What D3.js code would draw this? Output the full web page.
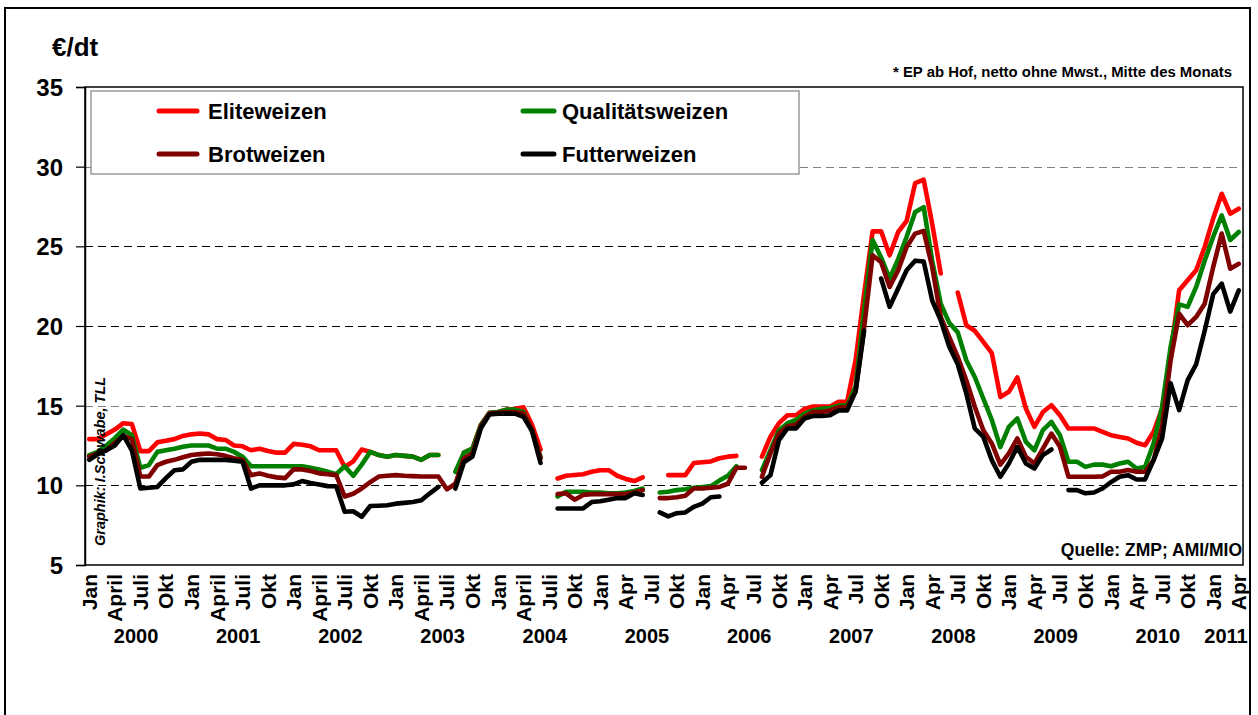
<!DOCTYPE html>
<html><head><meta charset="utf-8">
<script src="https://cdn.jsdelivr.net/npm/d3@7"></script>
<style>
body{margin:0;background:#fff}
svg{display:block}
text{font-family:"Liberation Sans",Arial,sans-serif;font-weight:bold;fill:#000}
</style>
</head><body>
<svg id="c" width="1258" height="715"></svg>
<script>
// ---- data ----
const yearLabels = ["2000","2001","2002","2003","2004","2005","2006","2007","2008","2009","2010","2011"];
const monthTickLabels = [
  "Jan","April","Juli","Okt","Jan","April","Juli","Okt","Jan","April","Juli","Okt",
  "Jan","April","Juli","Okt","Jan","April","Juli","Okt",
  "Jan","Apr","Jul","Okt","Jan","Apr","Jul","Okt","Jan","Apr","Jul","Okt",
  "Jan","Apr","Jul","Okt","Jan","Apr","Jul","Okt","Jan","Apr","Jul","Okt",
  "Jan","Apr"];
const yTicks = [5,10,15,20,25,30,35];
const seriesNames = ["Eliteweizen","Qualitätsweizen","Brotweizen","Futterweizen"];
const seriesColors = ["#ff0000","#008000","#800000","#000000"];

const eliteweizen = [
  12.9,12.9,13.2,13.5,13.9,13.85,12.15,12.15,12.7,12.8,12.9,13.1,
  13.2,13.25,13.2,12.9,12.85,12.5,12.45,12.2,12.3,12.15,12.05,12.05,
  12.6,12.55,12.45,12.2,12.2,12.2,11.15,11.5,12.25,12.1,11.9,11.8,
  11.9,11.85,11.8,11.6,11.9,11.9,null,null,12.05,12.3,13.8,14.55,
  14.6,14.75,14.8,14.9,13.8,12.25,null,10.43,10.6,10.65,10.7,10.85,
  10.95,10.95,10.6,10.4,10.27,10.5,null,null,10.64,10.64,10.64,11.4,
  11.45,11.5,11.7,11.8,11.85,null,null,11.8,13.05,13.9,14.4,14.4,
  14.8,14.95,14.95,14.95,15.24,15.24,17.85,22.0,25.94,25.94,24.44,25.9,
  26.6,28.97,29.18,26.4,23.3,null,22.1,20.05,19.7,19.0,18.3,15.55,
  15.87,16.77,14.82,13.67,14.6,15.03,14.4,13.57,13.57,13.57,13.57,13.36,
  13.15,13.04,12.94,12.67,12.52,13.36,14.82,18.27,22.24,22.87,23.5,24.96,
  26.74,28.3,27.05,27.36];
const qualitaetsweizen = [
  11.9,12.1,12.5,12.96,13.5,13.15,11.1,11.27,12.1,12.2,12.3,12.42,
  12.5,12.5,12.5,12.3,12.3,12.1,11.8,11.2,11.2,11.2,11.2,11.2,
  11.2,11.2,11.1,11.0,10.85,10.7,11.2,10.6,11.3,12.1,11.9,11.8,
  11.9,11.85,11.8,11.6,11.9,11.9,null,10.85,12.05,12.3,13.8,14.55,
  14.6,14.75,14.75,14.6,13.4,11.8,null,9.3,9.6,9.6,9.6,9.55,
  9.55,9.5,9.5,9.55,9.65,9.8,null,9.55,9.6,9.7,9.75,9.85,
  9.9,9.95,10.3,10.6,11.2,null,null,10.96,12.2,13.46,13.9,14.1,
  14.5,14.7,14.8,14.85,15.0,15.0,16.2,21.0,25.4,24.3,22.98,24.2,
  25.6,27.15,27.46,24.1,21.4,20.2,19.6,17.85,16.8,15.45,14.1,12.4,
  13.67,14.2,12.73,12.2,13.46,13.98,13.15,11.48,11.48,11.16,11.3,11.3,
  11.2,11.37,11.48,11.06,11.16,12.63,14.93,18.7,21.36,21.2,22.45,24.1,
  25.6,26.94,25.4,25.9];
const brotweizen = [
  11.8,12.0,12.2,12.65,13.1,12.9,10.55,10.55,11.27,11.48,11.6,11.76,
  11.9,11.96,12.0,11.95,11.85,11.7,11.6,10.64,10.75,10.6,10.5,10.45,
  11.0,11.0,10.9,10.75,10.7,10.64,9.3,9.47,9.8,10.2,10.55,10.6,
  10.64,10.6,10.58,10.55,10.55,10.55,9.75,10.1,11.7,12.0,13.7,14.5,
  14.55,14.6,14.6,14.5,13.5,11.7,null,9.45,9.5,9.1,9.4,9.45,
  9.45,9.45,9.45,9.45,9.55,9.7,null,9.2,9.2,9.25,9.35,9.8,
  9.8,9.85,9.9,10.1,11.1,11.1,null,10.54,12.0,13.25,13.7,13.8,
  14.3,14.6,14.6,14.7,14.9,14.9,15.9,19.9,24.44,24.0,22.45,23.5,
  24.96,25.8,25.96,23.7,20.57,19.3,18.06,16.6,14.93,13.46,12.63,11.3,
  12.0,12.94,11.79,11.37,12.3,13.25,12.42,10.54,10.54,10.54,10.54,10.56,
  10.85,10.85,10.96,10.85,10.85,11.58,13.67,17.85,20.78,20.05,20.57,21.4,
  23.7,25.8,23.6,23.9];
const futterweizen = [
  11.6,11.95,12.2,12.5,13.15,12.2,9.8,9.85,9.9,10.45,10.95,11.0,
  11.48,11.6,11.6,11.6,11.6,11.55,11.48,9.8,10.0,10.0,10.0,10.0,
  10.06,10.27,10.15,10.05,9.95,9.94,8.34,8.37,8.03,8.7,8.72,8.75,
  8.85,8.9,8.95,9.06,9.5,9.9,null,9.8,11.45,11.8,13.6,14.45,
  14.5,14.5,14.5,14.3,13.4,11.4,null,8.55,8.55,8.55,8.55,8.95,
  9.0,9.1,9.2,9.2,9.5,9.4,null,8.3,8.05,8.25,8.3,8.65,
  8.85,9.25,9.3,null,null,null,null,10.16,10.64,12.84,13.57,13.57,
  14.2,14.35,14.35,14.4,14.7,14.7,15.9,19.7,null,22.98,21.2,22.35,
  23.5,24.1,24.05,21.6,20.36,18.7,17.6,15.77,13.57,13.04,11.58,10.54,
  11.37,12.4,11.37,11.06,11.9,12.25,null,9.7,9.7,9.5,9.55,9.8,
  10.2,10.54,10.64,10.37,10.37,11.58,12.94,16.4,14.72,16.6,17.6,19.7,
  22.0,22.66,20.9,22.24];
const seriesData = [eliteweizen, qualitaetsweizen, brotweizen, futterweizen];

// ---- layout ----
const svg = d3.select("#c");
const P = {left:85, right:1243, top:87, bottom:565};
const nMonths = eliteweizen.length;
const x = d3.scaleBand().domain(d3.range(nMonths)).range([P.left, P.right]).padding(0);
const xc = i => x(i) + x.bandwidth()/2;
const y = d3.scaleLinear().domain([5,35]).range([P.bottom, P.top]);

// outer border
svg.append("rect").attr("x",5).attr("y",8).attr("width",1245).attr("height",720)
  .attr("fill","none").attr("stroke","#000").attr("stroke-width",2);

// gridlines
svg.append("g").selectAll("line").data(yTicks.filter(v=>v>5 && v<35)).join("line")
  .attr("x1",P.left).attr("x2",P.right)
  .attr("y1",d=>Math.round(y(d))+0.5).attr("y2",d=>Math.round(y(d))+0.5)
  .attr("stroke",d=>(d===15||d===30)?"#808080":"#000")
  .attr("stroke-width",1).attr("stroke-dasharray","8,5");

// plot frame
svg.append("rect").attr("x",P.left).attr("y",P.top).attr("width",P.right-P.left).attr("height",P.bottom-P.top)
  .attr("fill","none").attr("stroke","#000").attr("stroke-width",1.5);

// y axis
const yAxis = svg.append("g").attr("transform",`translate(${P.left},0)`)
  .call(d3.axisLeft(y).tickValues(yTicks).tickSize(9).tickPadding(13).tickFormat(d3.format("d")));
yAxis.select(".domain").attr("stroke","#000").attr("stroke-width",1.5);
yAxis.selectAll(".tick line").attr("stroke","#000").attr("stroke-width",1.2);
yAxis.selectAll("text").style("font-size","24px").style("font-family","'Liberation Sans',Arial,sans-serif").style("font-weight","bold").attr("dy","0.36em");

// x axis labels
const tickIdx = d3.range(0, nMonths, 3);
const xAxis = svg.append("g").attr("transform",`translate(0,${P.bottom})`)
  .call(d3.axisBottom(x).tickValues(tickIdx).tickSize(0).tickFormat((d,i)=>monthTickLabels[i]));
xAxis.select(".domain").remove();
xAxis.selectAll("text")
  .attr("transform","rotate(-90)").attr("x",-9).attr("y",0).attr("dy","0.36em")
  .style("text-anchor","end").style("font-size","21px")
  .style("font-family","'Liberation Sans',Arial,sans-serif").style("font-weight","bold");

// year labels
svg.append("g").selectAll("text").data(yearLabels).join("text")
  .attr("x",(d,i)=>{const s=i*12, e=Math.min(s+11,nMonths-1); return (x(s)+x(e)+x.bandwidth())/2;})
  .attr("y",643).attr("text-anchor","middle").style("font-size","20px").text(d=>d);

// lines
const line = d3.line().defined(d=>d!=null).x((d,i)=>xc(i)).y(d=>y(d));
svg.append("g").selectAll("path").data(seriesData).join("path")
  .attr("d",d=>line(d)).attr("fill","none")
  .attr("stroke",(d,i)=>seriesColors[i]).attr("stroke-width",4.6)
  .attr("stroke-linejoin","round").attr("stroke-linecap","round");

// legend
const lg = svg.append("g");
lg.append("rect").attr("x",91).attr("y",91).attr("width",708).attr("height",83)
  .attr("fill","#fff").attr("stroke","#808080").attr("stroke-width",1.2);
const legPos = [[159,111,208,38],[523,111,562,31],[159,154,208,38],[523,154,562,31]];
seriesNames.forEach((n,i)=>{
  const [lx,ly,tx,len]=legPos[i];
  lg.append("line").attr("x1",lx).attr("x2",lx+len).attr("y1",ly).attr("y2",ly)
    .attr("stroke",seriesColors[i]).attr("stroke-width",5).attr("stroke-linecap","round");
  lg.append("text").attr("x",tx).attr("y",ly+8).style("font-size","22px").text(n);
});

// titles / notes
svg.append("text").attr("x",52).attr("y",56).style("font-size","26px").text("€/dt");
svg.append("text").attr("x",1232).attr("y",77).attr("text-anchor","end").style("font-size","14.5px")
  .attr("textLength",339).attr("lengthAdjust","spacingAndGlyphs")
  .text("* EP ab Hof, netto ohne Mwst., Mitte des Monats");
svg.append("text").attr("x",1242).attr("y",556).attr("text-anchor","end").style("font-size","17.5px")
  .text("Quelle: ZMP; AMI/MIO");
svg.append("text").attr("transform","translate(105,546) rotate(-90)")
  .style("font-size","14.5px").style("font-style","italic")
  .text("Graphik: I.Schwabe, TLL");
</script>
</body></html>
